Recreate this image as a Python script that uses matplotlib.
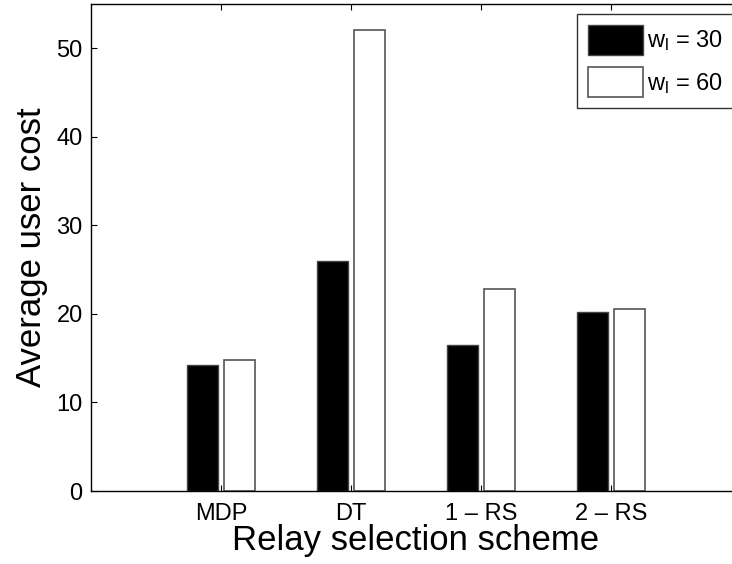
import numpy as np
import matplotlib
matplotlib.use("Agg")
import matplotlib.pyplot as plt

plt.rcParams["font.family"] = ["Liberation Sans", "DejaVu Sans"]
plt.rcParams["mathtext.fontset"] = "custom"
plt.rcParams["mathtext.rm"] = "Liberation Sans"
plt.rcParams["mathtext.it"] = "Liberation Sans"

# data
schemes = ["MDP", "DT", "1 \u2013 RS", "2 \u2013 RS"]
cost_w30 = [14.25, 26.0, 16.45, 20.25]
cost_w60 = [14.8, 52.05, 22.85, 20.5]
series_labels = [r"w$_\mathrm{l}$ = 30", r"w$_\mathrm{l}$ = 60"]

fig = plt.figure(figsize=(7.32, 5.64), dpi=100)
# axes run past the right edge of the picture, as in the cropped original
ax = fig.add_axes([91 / 732, 73 / 564, 650 / 732, 487 / 564])

x = np.arange(1, len(schemes) + 1)
w = 0.24
off = 0.143
b1 = ax.bar(x - off, cost_w30, w, color="black", edgecolor="#444", linewidth=1.0)
b2 = ax.bar(x + off, cost_w60, w, color="white", edgecolor="#555", linewidth=1.2)

ax.set_xlim(0, 5)
ax.set_ylim(0, 55)
ax.set_xticks(x)
ax.set_xticklabels(schemes)
ax.set_yticks(np.arange(0, 51, 10))
ax.tick_params(direction="in", length=4, width=0.8, top=True, right=False,
               labelsize=17)
ax.tick_params(axis="x", pad=9)
ax.tick_params(axis="y", pad=6)
ax.spines["right"].set_visible(False)
for s in ax.spines.values():
    s.set_linewidth(1.0)
    s.set_color("black")

ax.set_xlabel("Relay selection scheme", fontsize=25, labelpad=-1)
ax.set_ylabel("Average user cost", fontsize=25, labelpad=6)

leg = ax.legend([b1, b2], series_labels, loc="upper left",
                bbox_to_anchor=(577 / 732, 1 - 14 / 564), bbox_transform=fig.transFigure,
                fontsize=17, frameon=True, fancybox=False, edgecolor="black",
                handlelength=2.33, handleheight=1.6, handletextpad=0.2,
                labelspacing=0.5, borderpad=0.45, borderaxespad=0)
leg.get_frame().set_linewidth(1.0)

fig.savefig("out.png", dpi=100, facecolor="white")
